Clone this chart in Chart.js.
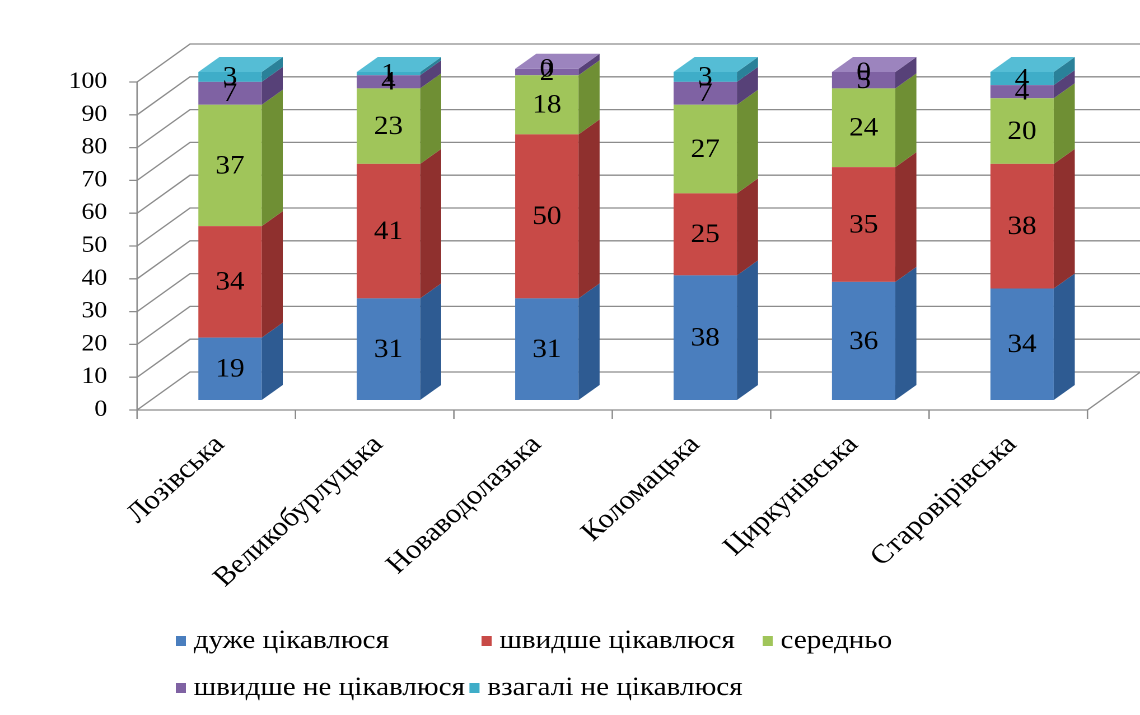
<!DOCTYPE html>
<html>
<head>
<meta charset="utf-8">
<script src="https://cdn.jsdelivr.net/npm/chart.js@4.4.1/dist/chart.umd.min.js"></script>
<style>
  html, body { margin: 0; padding: 0; background: #ffffff; }
</style>
</head>
<body>
<!-- the drawing surface is laid out 1018 px wide and widened to 1140 px on screen -->
<canvas id="chart" width="1018" height="715" style="display:block;width:1140px;height:715px;"></canvas>
<script>
// Districts (categories)
const districts = ['Лозівська', 'Великобурлуцька', 'Новаводолазька', 'Коломацька', 'Циркунівська', 'Старовірівська'];

// Share of respondents, %
const veryInterested   = [19, 31, 31, 38, 36, 34];
const ratherInterested = [34, 41, 50, 25, 35, 38];
const medium           = [37, 23, 18, 27, 24, 20];
const ratherNot        = [7, 4, 2, 7, 5, 4];
const notAtAll         = [3, 1, 0, 3, 0, 4];

const seriesNames = ['дуже цікавлюся', 'швидше цікавлюся', 'середньо', 'швидше не цікавлюся', 'взагалі не цікавлюся'];
const yTickValues = [0, 10, 20, 30, 40, 50, 60, 70, 80, 90, 100];

// front / side / top shades for each series
const palette = [
  { front: '#4a7ebe', side: '#2e5b92', top: '#76a0d4' },
  { front: '#c84a47', side: '#8f302e', top: '#dc7774' },
  { front: '#a0c55a', side: '#6f8f34', top: '#bcd883' },
  { front: '#7f62a3', side: '#574178', top: '#9c84be' },
  { front: '#3fadc8', side: '#2a8199', top: '#55bdd5' }
];

const FONT = "'Liberation Serif', 'DejaVu Serif', serif";

// 3D geometry relative to the plane of the bar fronts
const FRONT = { dx: -12.3, dy: 10 };   // front edge of the floor / walls
const BACK  = { dx: 35, dy: -28 };     // back wall
const BAR_DEPTH = { dx: 18.8, dy: -15 };
const TICK = 7;

const frame3d = {
  id: 'frame3d',
  beforeDatasetsDraw(chart) {
    const { ctx, chartArea: a, scales: { x, y } } = chart;
    ctx.save();
    ctx.strokeStyle = '#8c8c8c';
    ctx.lineWidth = 1.3;
    const fx = a.left + FRONT.dx;
    const bxL = a.left + BACK.dx;
    const bxR = a.right + BACK.dx;
    const seg = (x1, y1, x2, y2) => { ctx.beginPath(); ctx.moveTo(x1, y1); ctx.lineTo(x2, y2); ctx.stroke(); };
    // gridlines: tick, diagonal on the side wall, horizontal on the back wall
    y.ticks.forEach(t => {
      const py = y.getPixelForValue(t.value);
      const fy = py + FRONT.dy, by = py + BACK.dy;
      ctx.beginPath();
      ctx.moveTo(fx - TICK, fy);
      ctx.lineTo(fx, fy);
      ctx.lineTo(bxL, by);
      ctx.lineTo(bxR, by);
      ctx.stroke();
    });
    const p0 = y.getPixelForValue(0), p100 = y.getPixelForValue(100);
    // value axis
    seg(fx, p0 + FRONT.dy, fx, p100 + FRONT.dy);
    // floor edges
    const frx = a.right + FRONT.dx;
    seg(fx, p0 + FRONT.dy, frx, p0 + FRONT.dy);
    seg(frx, p0 + FRONT.dy, bxR, p0 + BACK.dy);
    // category separators
    for (let i = 0; i <= districts.length; i++) {
      const px = x.getPixelForValue(i - 0.5) + FRONT.dx;
      seg(px, p0 + FRONT.dy, px, p0 + FRONT.dy + 9);
    }
    ctx.restore();
  }
};

const bars3d = {
  id: 'bars3d',
  afterDatasetsDraw(chart) {
    const { ctx } = chart;
    const sets = chart.data.datasets;
    ctx.save();
    // side faces
    sets.forEach((ds, di) => {
      chart.getDatasetMeta(di).data.forEach(bar => {
        const { x, y, base, width } = bar.getProps(['x', 'y', 'base', 'width'], true);
        const r = x + width / 2;
        const top = Math.min(y, base), bottom = Math.max(y, base);
        if (bottom - top <= 0) return;
        ctx.fillStyle = palette[di].side;
        ctx.beginPath();
        ctx.moveTo(r, bottom);
        ctx.lineTo(r + BAR_DEPTH.dx, bottom + BAR_DEPTH.dy);
        ctx.lineTo(r + BAR_DEPTH.dx, top + BAR_DEPTH.dy);
        ctx.lineTo(r, top);
        ctx.closePath();
        ctx.fill();
      });
    });
    // top face of each stack, coloured by its highest non-empty segment
    districts.forEach((_, i) => {
      let di = sets.length - 1;
      while (di > 0 && !(sets[di].data[i] > 0)) di--;
      const bar = chart.getDatasetMeta(di).data[i];
      const { x, y, base, width } = bar.getProps(['x', 'y', 'base', 'width'], true);
      const l = x - width / 2, r = x + width / 2, top = Math.min(y, base);
      ctx.fillStyle = palette[di].top;
      ctx.beginPath();
      ctx.moveTo(l, top);
      ctx.lineTo(r, top);
      ctx.lineTo(r + BAR_DEPTH.dx, top + BAR_DEPTH.dy);
      ctx.lineTo(l + BAR_DEPTH.dx, top + BAR_DEPTH.dy);
      ctx.closePath();
      ctx.fill();
    });
    // value labels
    ctx.fillStyle = '#000000';
    ctx.font = '26px ' + FONT;
    ctx.textAlign = 'center';
    ctx.textBaseline = 'middle';
    sets.forEach((ds, di) => {
      chart.getDatasetMeta(di).data.forEach((bar, i) => {
        const { x, y, base } = bar.getProps(['x', 'y', 'base'], true);
        ctx.fillText(String(ds.data[i]), x, (y + base) / 2 + 1);
      });
    });
    ctx.restore();
  }
};

// legend in two rows
const legendRows = [[0, 1, 2], [3, 4]];
const legendColumns = [[157, 430, 681], [157, 417]];
const legendRowY = [641, 688];

const legendBlock = {
  id: 'legendBlock',
  afterDraw(chart) {
    const { ctx } = chart;
    ctx.save();
    ctx.font = '26px ' + FONT;
    ctx.textBaseline = 'middle';
    ctx.textAlign = 'left';
    legendRows.forEach((row, r) => {
      let prevEnd = 0;
      row.forEach((di, k) => {
        const ds = chart.data.datasets[di];
        const lx = Math.max(legendColumns[r][k], prevEnd + 4);
        const ly = legendRowY[r];
        ctx.fillStyle = palette[di].front;
        ctx.fillRect(lx, ly - 5, 9, 10);
        ctx.fillStyle = '#000000';
        ctx.fillText(ds.label, lx + 16, ly);
        prevEnd = lx + 16 + ctx.measureText(ds.label).width;
      });
    });
    ctx.restore();
  }
};

const seriesValues = [veryInterested, ratherInterested, medium, ratherNot, notAtAll];

new Chart(document.getElementById('chart'), {
  type: 'bar',
  data: {
    labels: districts,
    datasets: seriesValues.map((vals, i) => ({
      label: seriesNames[i],
      data: vals,
      backgroundColor: palette[i].front,
      borderWidth: 0,
      categoryPercentage: 1,
      barPercentage: 0.4,
      clip: false
    }))
  },
  options: {
    responsive: false,
    devicePixelRatio: 2,
    animation: false,
    layout: { padding: { top: 72, right: 34.6, bottom: 0, left: 0 } },
    plugins: { legend: { display: false }, tooltip: { enabled: false } },
    scales: {
      x: {
        stacked: true,
        grid: { display: false, drawTicks: false },
        border: { display: false },
        ticks: {
          autoSkip: false,
          minRotation: 45,
          maxRotation: 45,
          labelOffset: -9,
          padding: 29,
          color: '#000000',
          font: { family: FONT, size: 27 }
        },
        afterFit(s) { s.height = 315; }
      },
      y: {
        stacked: true,
        min: 0,
        max: 100,
        grid: { display: false, drawTicks: false },
        border: { display: false },
        afterBuildTicks(s) { s.ticks = yTickValues.map(v => ({ value: v })); },
        ticks: {
          labelOffset: 10,
          padding: 39,
          color: '#000000',
          font: { family: FONT, size: 23 }
        },
        afterFit(s) { s.width = 134.7; }
      }
    }
  },
  plugins: [frame3d, bars3d, legendBlock]
});
</script>
</body>
</html>
